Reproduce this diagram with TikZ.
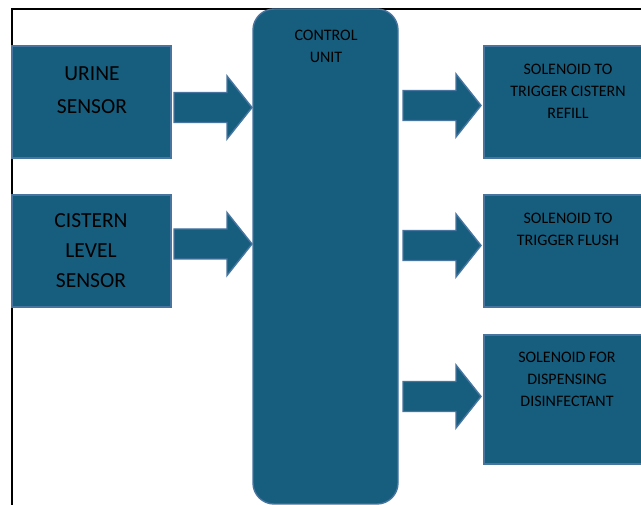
\documentclass[tikz,border=0pt]{standalone}
\usepackage{fontspec}
\setmainfont{Carlito}
\definecolor{boxfill}{HTML}{175E7E}
\definecolor{boxline}{HTML}{4775A0}
\tikzset{
  box/.style={draw=boxline, line width=1.4pt, fill=boxfill, inner sep=0pt, outer sep=0pt},
  arrowshape/.style={draw=boxline, line width=1.4pt, fill=boxfill, line join=miter},
  lbl/.style={align=center, inner sep=0pt, text=black, font=\fontsize{16}{22}\selectfont},
  biglbl/.style={align=center, inner sep=0pt, text=black, font=\fontsize{21.5}{33}\selectfont},
  frameline/.style={draw=black, line width=2pt},
  blockarrow/.pic={\path[arrowshape] (0,-15) -- (53,-15) -- (53,-31.5) -- (78,0) -- (53,31.5) -- (53,15) -- (0,15) -- cycle;}
}
\begin{document}
\begin{tikzpicture}[x=1pt,y=-1pt]
\useasboundingbox (0,0) rectangle (641,505);
\clip (0,0) rectangle (641,505);
\fill[white] (0,0) rectangle (641,505);
% frame
\coordinate (fbl) at (12,506);
\coordinate (ftl) at (12,8.7);
\coordinate (ftr) at (642,8.7);
\draw[frameline] (fbl) -- (ftl) -- (ftr);
% left boxes
\node[box, minimum width=159pt, minimum height=112pt, anchor=north west] (urine) at (12,46) {};
\node[box, minimum width=159pt, minimum height=112pt, anchor=north west] (cistern) at (12,195) {};
% control unit
\node[box, rounded corners=21pt, minimum width=145pt, minimum height=495pt, anchor=north west] (cu) at (253,9) {};
% right boxes
\node[box, minimum width=170pt, minimum height=112pt, anchor=north west] (refill) at (484,46) {};
\node[box, minimum width=170pt, minimum height=112pt, anchor=north west] (flush) at (484,195) {};
\node[box, minimum width=170pt, minimum height=129pt, anchor=north west] (disinf) at (484,335) {};
% block arrows
\coordinate (a1) at (174,107.5);
\coordinate (a2) at (174,244);
\coordinate (a3) at (403,105.5);
\coordinate (a4) at (403,245.5);
\coordinate (a5) at (403,396.5);
\pic at (a1) {blockarrow};
\pic at (a2) {blockarrow};
\pic at (a3) {blockarrow};
\pic at (a4) {blockarrow};
\pic at (a5) {blockarrow};
% labels
\node[biglbl, anchor=north] (urinetxt) at (92,67) {URINE\\SENSOR};
\node[biglbl, font=\fontsize{21.5}{30}\selectfont, anchor=north] (cisterntxt) at (91,213) {CISTERN\\LEVEL\\SENSOR};
\node[lbl, anchor=north] (cutxt) at (326,30) {CONTROL\\UNIT};
\node[lbl, anchor=north] (refilltxt) at (568,63.5) {SOLENOID TO\\TRIGGER CISTERN\\REFILL};
\node[lbl, anchor=north] (flushtxt) at (568,213) {SOLENOID TO\\TRIGGER FLUSH};
\node[lbl, anchor=north] (disinftxt) at (567,352) {SOLENOID FOR\\DISPENSING\\DISINFECTANT};
\end{tikzpicture}
\end{document}
